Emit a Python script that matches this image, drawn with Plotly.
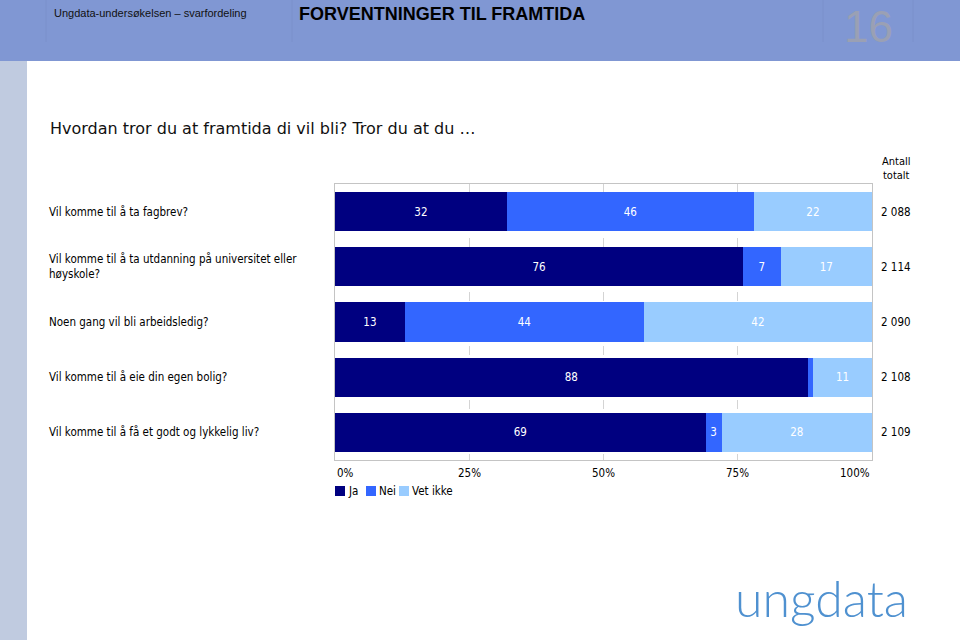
import plotly.graph_objects as go

# ---- data ----
questions = [
    "Vil komme til å ta fagbrev?",
    "Vil komme til å ta utdanning på universitet eller<br>høyskole?",
    "Noen gang vil bli arbeidsledig?",
    "Vil komme til å eie din egen bolig?",
    "Vil komme til å få et godt og lykkelig liv?",
]
series_names = ["Ja", "Nei", "Vet ikke"]
ja = [32, 76, 13, 88, 69]
nei = [46, 7, 44.5, 1, 3]
vet_ikke = [22, 17, 42.5, 11, 28]
totals = ["2 088", "2 114", "2 090", "2 108", "2 109"]
tick_vals = [0, 25, 50, 75, 100]
tick_text = ["0%", "25%", "50%", "75%", "100%"]

colors = ["#000080", "#3366ff", "#99ccff"]
FONT = "DejaVu Sans Condensed, DejaVu Sans, Verdana, sans-serif"
FS = 11.5

# plot area in pixels
L, R, T, B = 335, 872, 184, 460
W, H = 960, 640


def px(x):
    return (x - L) / (R - L)


def py(y):
    return (B - y) / (B - T)


fig = go.Figure()
ypos = list(range(len(questions)))
for name, vals, col in zip(series_names, [ja, nei, vet_ikke], colors):
    fig.add_trace(go.Bar(
        y=ypos, x=vals, orientation="h", name=name,
        marker=dict(color=col, line=dict(width=0)),
        width=0.71,
        text=[str(int(v)) if v >= 3 else "" for v in vals],
        textposition="inside", insidetextanchor="middle", textangle=0,
        textfont=dict(color="white", size=FS, family=FONT),
        hoverinfo="skip", showlegend=False,
    ))

shapes = []
annotations = []

# header band and left strip
shapes.append(dict(type="rect", xref="paper", yref="paper", x0=px(0), x1=px(W),
                   y0=py(61), y1=py(0), fillcolor="#8097d3", line=dict(width=0), layer="below"))
shapes.append(dict(type="rect", xref="paper", yref="paper", x0=px(0), x1=px(27),
                   y0=py(H), y1=py(61), fillcolor="#c0cbe0", line=dict(width=0), layer="below"))
for lx in [46, 292, 823, 913]:
    shapes.append(dict(type="line", xref="paper", yref="paper", x0=px(lx), x1=px(lx),
                       y0=py(42), y1=py(0), line=dict(color="#7a90cb", width=1), layer="below"))

annotations.append(dict(text="Ungdata-undersøkelsen – svarfordeling", xref="paper", yref="paper",
                        x=px(52), y=py(13), xanchor="left", yanchor="middle", showarrow=False,
                        font=dict(family="Liberation Sans, Arial", size=11, color="#111")))
annotations.append(dict(text="<b>FORVENTNINGER TIL FRAMTIDA</b>", xref="paper", yref="paper",
                        x=px(297), y=py(14), xanchor="left", yanchor="middle", showarrow=False,
                        font=dict(family="Liberation Sans, Arial", size=18, color="#000")))
annotations.append(dict(text="16", xref="paper", yref="paper",
                        x=px(868), y=py(0), xanchor="center", yanchor="top", showarrow=False,
                        font=dict(family="Liberation Sans, Arial", size=44, color="#9aa0b4")))

# title
annotations.append(dict(text="Hvordan tror du at framtida di vil bli? Tror du at du …", xref="paper", yref="paper",
                        x=px(48), y=py(128), xanchor="left", yanchor="middle", showarrow=False,
                        font=dict(family="DejaVu Sans, Verdana", size=16, color="#111")))

# question labels and totals
for i, (q, tot) in enumerate(zip(questions, totals)):
    annotations.append(dict(text=q, xref="paper", yref="y", x=px(47), y=i,
                            xanchor="left", yanchor="middle", align="left", showarrow=False,
                            font=dict(family=FONT, size=FS, color="#000")))
    annotations.append(dict(text=tot, xref="paper", yref="y", x=px(879), y=i,
                            xanchor="left", yanchor="middle", showarrow=False,
                            font=dict(family=FONT, size=FS, color="#000")))
annotations.append(dict(text="Antall<br>totalt", xref="paper", yref="paper", x=px(896), y=py(168),
                        xanchor="center", yanchor="middle", showarrow=False,
                        font=dict(family=FONT, size=11, color="#000")))

# x tick labels
for v, t in zip(tick_vals, tick_text):
    anchor = "left" if v == tick_vals[0] else ("right" if v == tick_vals[-1] else "center")
    annotations.append(dict(text=t, xref="x", yref="paper", x=v, y=py(473),
                            xanchor=anchor, yanchor="middle", showarrow=False,
                            font=dict(family=FONT, size=FS, color="#000")))

# legend (manual)
leg_x = [335, 366, 399]
for name, col, lx in zip(series_names, colors, leg_x):
    shapes.append(dict(type="rect", xref="paper", yref="paper", x0=px(lx), x1=px(lx + 10),
                       y0=py(496), y1=py(486), fillcolor=col, line=dict(width=0)))
    annotations.append(dict(text=name, xref="paper", yref="paper", x=px(lx + 11), y=py(491),
                            xanchor="left", yanchor="middle", showarrow=False,
                            font=dict(family=FONT, size=FS, color="#000")))

# logo
annotations.append(dict(text="ungdata", xref="paper", yref="paper", x=px(821), y=py(598),
                        xanchor="center", yanchor="middle", showarrow=False,
                        font=dict(family="Lato, Inter, sans-serif", size=50, color="#4f91d0", weight=300)))

fig.update_layout(
    width=W, height=H,
    margin=dict(l=L, r=W - R, t=T, b=H - B, pad=0),
    paper_bgcolor="white", plot_bgcolor="white",
    barmode="stack", bargap=0.29,
    xaxis=dict(range=[0, 100], tickvals=tick_vals, showticklabels=False, ticks="",
               showgrid=True, gridcolor="#d4d4d4", griddash="dash", gridwidth=1,
               zeroline=False, showline=True, mirror=True, linecolor="#c4c4c4", linewidth=1,
               fixedrange=True),
    yaxis=dict(range=[len(questions) - 0.5, -0.5], showticklabels=False, ticks="",
               showgrid=False, zeroline=False, showline=True, mirror=True,
               linecolor="#c4c4c4", linewidth=1, fixedrange=True),
    shapes=shapes, annotations=annotations, showlegend=False,
)

fig.write_html("out.html", config={"displayModeBar": False},
               post_script="document.body.style.margin='0';document.body.style.overflow='hidden';")
